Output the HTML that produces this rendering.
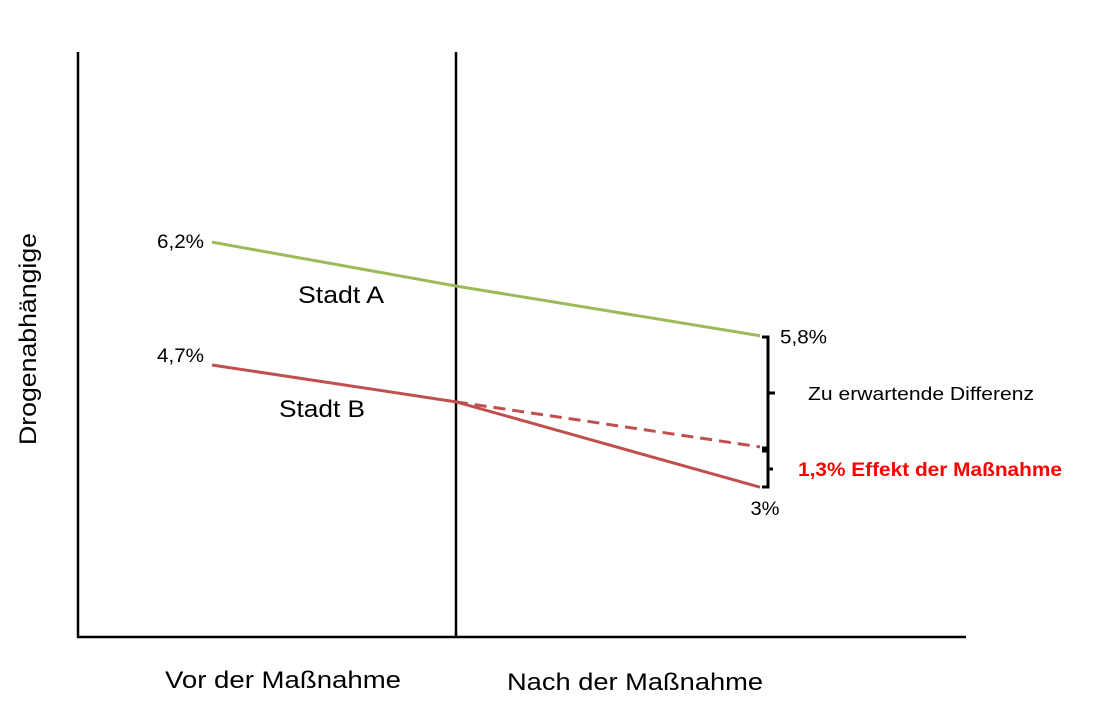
<!DOCTYPE html>
<html><head><meta charset="utf-8"><style>
html,body{margin:0;padding:0;background:#fff}
svg{display:block}
text{font-family:"Liberation Sans",sans-serif;fill:#000}
</style></head><body>
<svg id="chart" width="1097" height="716" viewBox="0 0 1097 716">
<g id="axes">
<line x1="78" y1="52" x2="78" y2="638" stroke="#000" stroke-width="2.5"/>
<line x1="77" y1="637" x2="966" y2="637" stroke="#000" stroke-width="2.5"/>
<line x1="456" y1="52" x2="456" y2="638" stroke="#000" stroke-width="2.5"/>
<text x="0" y="0" font-size="24" text-anchor="middle" textLength="212" lengthAdjust="spacingAndGlyphs" transform="translate(36,339) rotate(-90)">Drogenabhängige</text>
<text x="165" y="688" font-size="24" textLength="236" lengthAdjust="spacingAndGlyphs">Vor der Maßnahme</text>
<text x="507" y="690" font-size="24" textLength="256" lengthAdjust="spacingAndGlyphs">Nach der Maßnahme</text>
</g>
<g id="marks"></g>
<g id="annot">
<path d="M762,337 h6 v56 h7 M768,393 v55 h-6" fill="none" stroke="#000" stroke-width="3"/>
<path d="M762,451 h6 v18 h5 M768,469 v18 h-6" fill="none" stroke="#000" stroke-width="3"/>
<text x="808" y="400" font-size="18" textLength="226" lengthAdjust="spacingAndGlyphs">Zu erwartende  Differenz</text>
<text x="798" y="476" font-size="19" font-weight="bold" textLength="264" lengthAdjust="spacingAndGlyphs" style="fill:#ff0000">1,3%  Effekt der Maßnahme</text>
<text x="298" y="303" font-size="24" textLength="86" lengthAdjust="spacingAndGlyphs">Stadt A</text>
<text x="279" y="417" font-size="24" textLength="86" lengthAdjust="spacingAndGlyphs">Stadt B</text>
</g>
</svg>
<script>
// time positions: 0 = before, 0.445 = intervention, 1 = after
const timePoints = [0, 0.445, 1];
// schematic levels (0-10 scale)
const stadtA = [6.75, 6.0, 5.15];
const stadtB = [4.65, 4.02, 2.56];
const stadtBCounterfactual = [null, 4.02, 3.25];
const stadtALabels = ["6,2%", null, "5,8%"];
const stadtBLabels = ["4,7%", null, "3%"];

const x = t => 212 + t * 548;
const y = v => 637 - v * 58.5;
const NS = "http://www.w3.org/2000/svg";
const g = document.getElementById("marks");

function poly(vals, color, dash, name) {
  const pts = [];
  vals.forEach((v, i) => { if (v !== null) pts.push(x(timePoints[i]) + "," + y(v)); });
  const p = document.createElementNS(NS, "polyline");
  p.setAttribute("points", pts.join(" "));
  p.setAttribute("fill", "none");
  p.setAttribute("stroke", color);
  p.setAttribute("stroke-width", "3");
  if (dash) p.setAttribute("stroke-dasharray", dash);
  
  
  g.appendChild(p);
}
poly(stadtA, "#9BBB59", null, "stadt-a-line");
poly(stadtBCounterfactual, "#C0504D", "12,7", "stadt-b-counterfactual-line");
poly(stadtB, "#C0504D", null, "stadt-b-line");

function lbl(txt, px, py, anchor, w, name) {
  const t = document.createElementNS(NS, "text");
  t.textContent = txt;
  t.setAttribute("x", px); t.setAttribute("y", py);
  t.setAttribute("font-size", "19");
  t.setAttribute("text-anchor", anchor);
  t.setAttribute("textLength", w);
  t.setAttribute("lengthAdjust", "spacingAndGlyphs");
  
  
  g.appendChild(t);
}
lbl(stadtALabels[0], x(timePoints[0]) - 8, y(stadtA[0]) + 6, "end", 47, "stadt-a-start-value");
lbl(stadtALabels[2], x(timePoints[2]) + 20, y(stadtA[2]) + 8, "start", 47, "stadt-a-end-value");
lbl(stadtBLabels[0], x(timePoints[0]) - 8, y(stadtB[0]) - 3, "end", 47, "stadt-b-start-value");
lbl(stadtBLabels[2], x(timePoints[2]) + 5, y(stadtB[2]) + 28, "middle", 29, "stadt-b-end-value");
</script>
</body></html>
